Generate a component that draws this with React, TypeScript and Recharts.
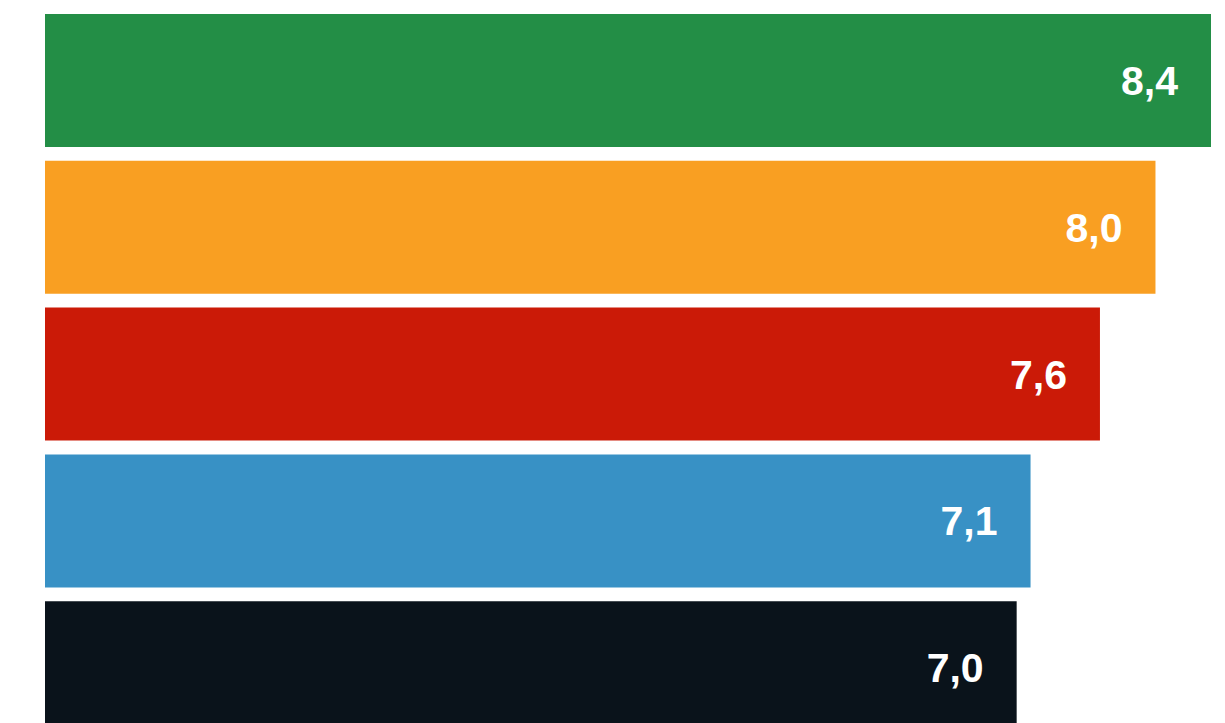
import React from 'react';
import {BarChart, Bar, XAxis, YAxis, Cell, LabelList} from 'recharts';

// no visible category labels in the chart, so these stay hidden
const categories = ['A', 'B', 'C', 'D', 'E'];
const values = [8.4, 8.0, 7.6, 7.1, 7.0];
const colors = ['#238e46', '#f99f22', '#cb1a07', '#3891c5', '#0a131b'];

const data = categories.map((name, i) => ({name, value: values[i]}));

const formatValue = (v: any) => Number(v).toFixed(1).replace('.', ',');

const App = () => (
  <div style={{position: 'absolute', left: 8, top: 7}}>
    <BarChart
      width={1217}
      height={734}
      data={data}
      layout="vertical"
      margin={{top: 0, right: 14, bottom: 0, left: 37}}
    >
      <XAxis type="number" domain={[0, 8.4]} hide />
      <YAxis type="category" dataKey="name" hide />
      <Bar dataKey="value" barSize={133} isAnimationActive={false}>
        {data.map((d, i) => (
          <Cell key={d.name} fill={colors[i]} />
        ))}
        <LabelList
          dataKey="value"
          position="insideRight"
          offset={33}
          formatter={formatValue}
          fill="#ffffff"
          fontSize={41}
          fontWeight="bold"
          fontFamily="'Liberation Sans', Arial, sans-serif"
        />
      </Bar>
    </BarChart>
  </div>
);

export default App;
